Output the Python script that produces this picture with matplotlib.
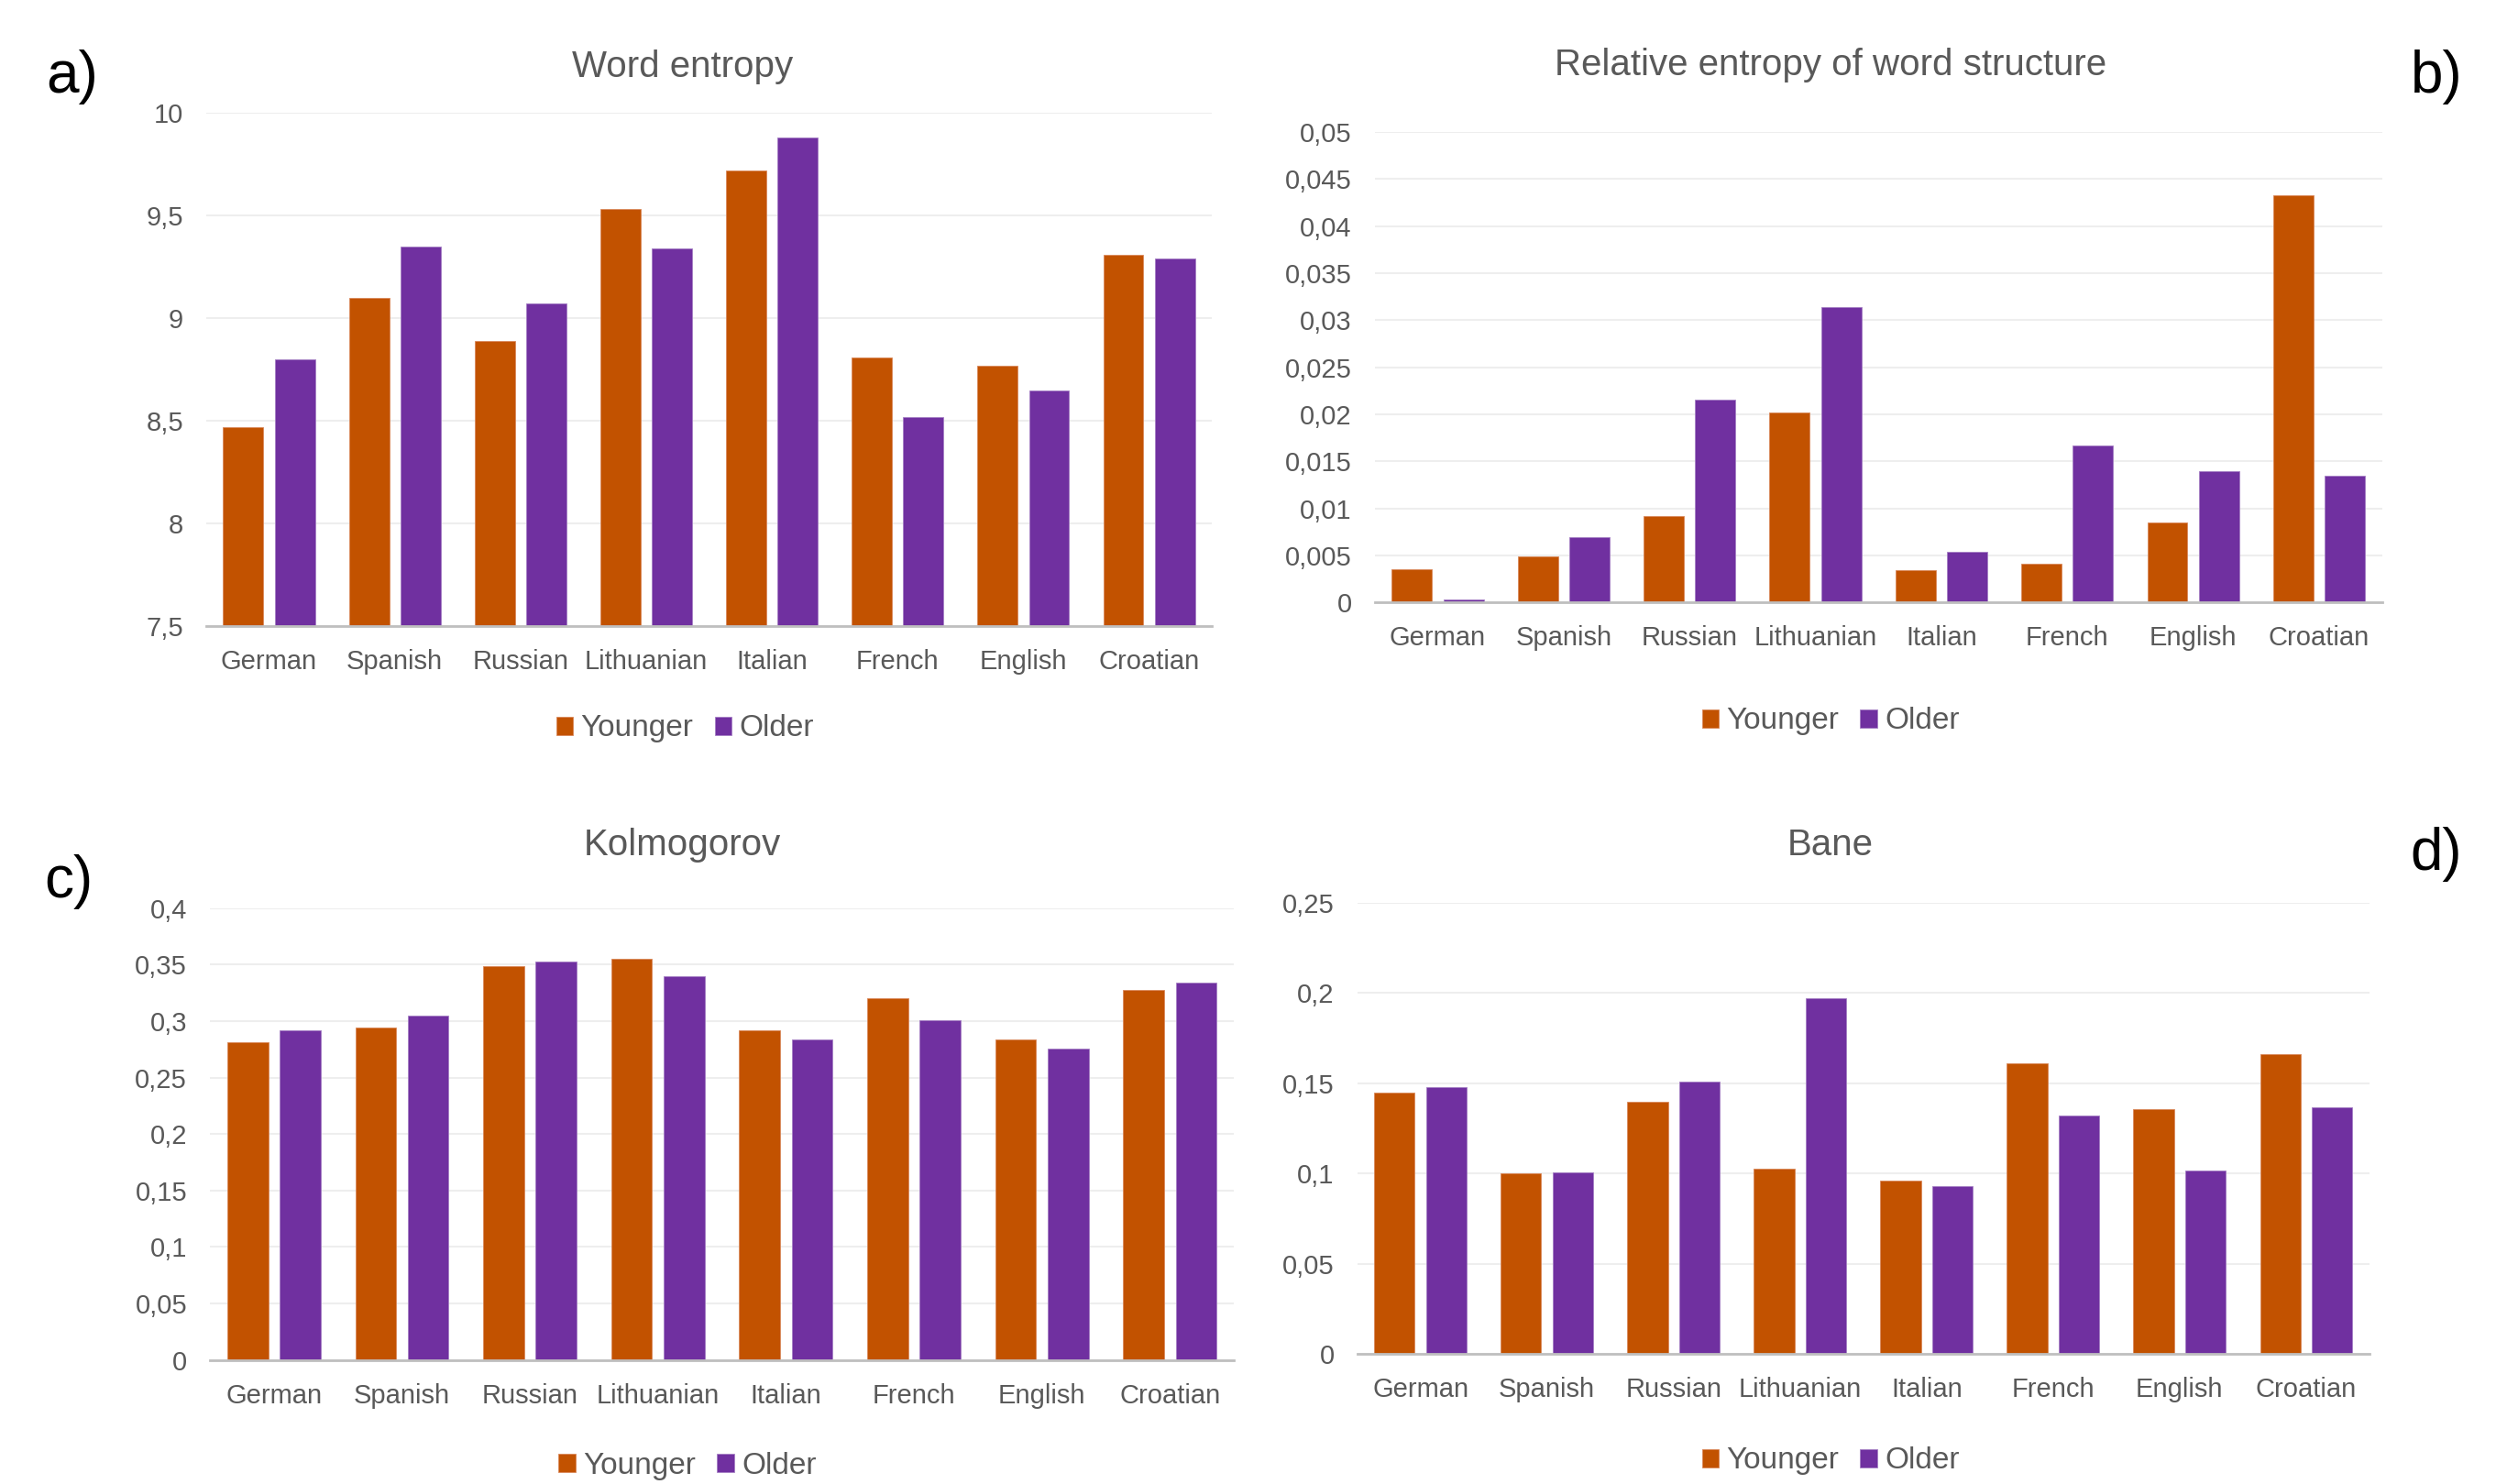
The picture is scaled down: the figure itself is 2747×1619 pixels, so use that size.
import numpy as np
import matplotlib
matplotlib.use("Agg")
import matplotlib.pyplot as plt
from matplotlib.ticker import FuncFormatter

plt.rcParams['font.family'] = ['Liberation Sans', 'DejaVu Sans']

languages = ["German", "Spanish", "Russian", "Lithuanian", "Italian", "French", "English", "Croatian"]

# a) word entropy
word_entropy_younger = [8.47, 9.10, 8.89, 9.53, 9.72, 8.81, 8.77, 9.31]
word_entropy_older = [8.80, 9.35, 9.07, 9.34, 9.88, 8.52, 8.65, 9.29]
# b) relative entropy of word structure
rel_entropy_younger = [0.0035, 0.0049, 0.0092, 0.0202, 0.0034, 0.0041, 0.0085, 0.0433]
rel_entropy_older = [0.0003, 0.0069, 0.0216, 0.0314, 0.0054, 0.0167, 0.0140, 0.0135]
# c) Kolmogorov
kolmogorov_younger = [0.281, 0.294, 0.349, 0.355, 0.292, 0.320, 0.284, 0.328]
kolmogorov_older = [0.292, 0.305, 0.353, 0.340, 0.284, 0.301, 0.276, 0.334]
# d) Bane
bane_younger = [0.145, 0.100, 0.140, 0.103, 0.096, 0.161, 0.136, 0.166]
bane_older = [0.148, 0.101, 0.151, 0.197, 0.093, 0.132, 0.102, 0.137]

C_YOUNG = "#C25200"
C_OLD = "#7030A0"
TXT = "#595959"


def comma_fmt(v, pos):
    s = f"{v:.3f}".rstrip("0").rstrip(".")
    return s.replace(".", ",")


def draw_panel(fig, rect, young, old, title, ylim, step, title_xy, leg_xy):
    ax = fig.add_axes(rect)
    x = np.arange(len(languages))
    w, off = 0.32, 0.205
    ax.bar(x - off, young, w, color=C_YOUNG, edgecolor="#D9885A", linewidth=0.6,
           label="Younger", zorder=3)
    ax.bar(x + off, old, w, color=C_OLD, edgecolor="#A57FC4", linewidth=0.6,
           label="Older", zorder=3)
    ax.set_xlim(-0.5, len(languages) - 0.5)
    ax.set_ylim(*ylim)
    ax.set_yticks(np.arange(ylim[0], ylim[1] + step / 2, step))
    ax.yaxis.set_major_formatter(FuncFormatter(comma_fmt))
    ax.set_xticks(x)
    ax.set_xticklabels(languages)
    ax.tick_params(axis='both', length=0, colors=TXT, labelsize=21)
    ax.tick_params(axis='x', pad=18)
    ax.tick_params(axis='y', pad=18)
    ax.grid(axis='y', color="#EEEEEE", lw=1.5, zorder=0)
    for s in ("top", "right", "left"):
        ax.spines[s].set_visible(False)
    ax.spines["bottom"].set_color("#BFBFBF")
    ax.spines["bottom"].set_linewidth(2)
    ax.spines["bottom"].set_zorder(4)
    fig.text(title_xy[0], title_xy[1], title, ha="center", va="center", fontsize=29, color=TXT)
    ax.legend(loc="center", bbox_to_anchor=leg_xy, bbox_transform=fig.transFigure,
              ncol=2, frameon=False, fontsize=24, handlelength=0.55, handleheight=0.55,
              handletextpad=0.25, columnspacing=0.7, labelcolor=TXT)
    return ax


fig = plt.figure(figsize=(27.47, 16.19), dpi=100)

axa = draw_panel(fig, [0.0819, 0.578, 0.3994, 0.346], word_entropy_younger, word_entropy_older,
                 "Word entropy", (7.5, 10), 0.5, (0.271, 1 - 73 / 1619), (0.272, 0.509))
axb = draw_panel(fig, [0.546, 0.594, 0.400, 0.317], rel_entropy_younger, rel_entropy_older,
                 "Relative entropy of word structure", (0, 0.05), 0.005,
                 (0.727, 1 - 71 / 1619), (0.727, 0.514))
axc = draw_panel(fig, [0.0834, 0.0836, 0.4066, 0.3044], kolmogorov_younger, kolmogorov_older,
                 "Kolmogorov", (0, 0.4), 0.05, (0.271, 1 - 922 / 1619), (0.273, 0.012))
axd = draw_panel(fig, [0.539, 0.0874, 0.402, 0.3042], bane_younger, bane_older,
                 "Bane", (0, 0.25), 0.05, (0.727, 1 - 922 / 1619), (0.727, 0.0155))

fig.text(79 / 2747, 1 - 84 / 1619, "a)", ha="center", va="center", fontsize=46, color="black")
fig.text(2658 / 2747, 1 - 84 / 1619, "b)", ha="center", va="center", fontsize=46, color="black")
fig.text(75 / 2747, 1 - 962 / 1619, "c)", ha="center", va="center", fontsize=46, color="black")
fig.text(2658 / 2747, 1 - 932 / 1619, "d)", ha="center", va="center", fontsize=46, color="black")

fig.savefig("out.png", dpi=100)
